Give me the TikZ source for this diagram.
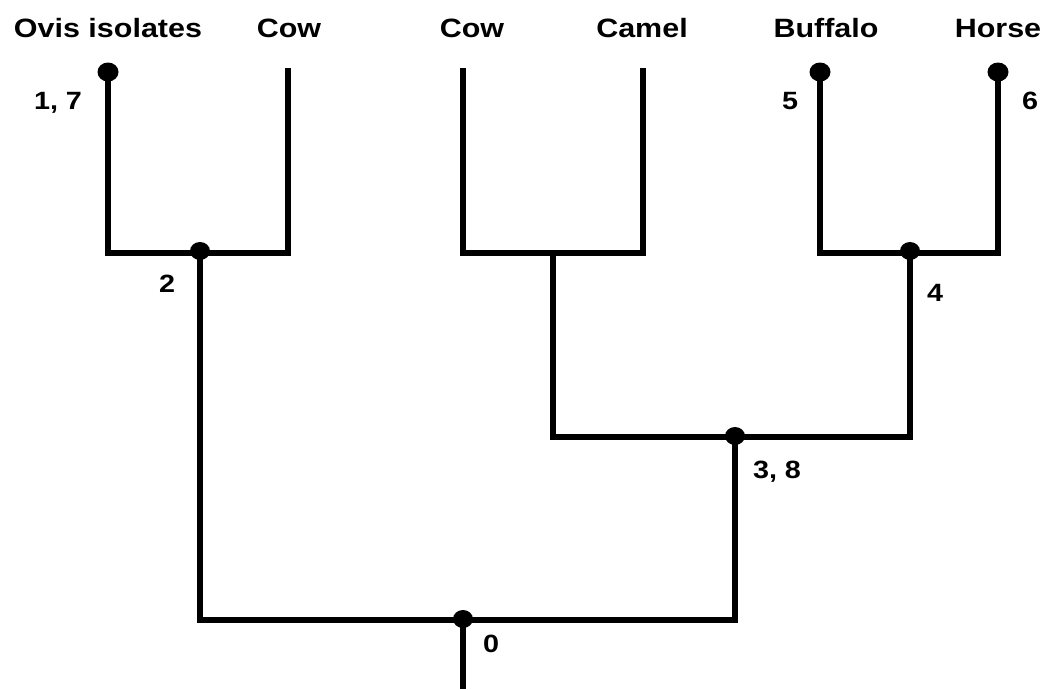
\documentclass[tikz,border=0pt]{standalone}
\usepackage{fontspec}
\usetikzlibrary{shapes.geometric}
\setmainfont{Liberation Sans}[FakeStretch=1.15]
\begin{document}
\begin{tikzpicture}[x=1pt,y=-1pt,
  branch/.style={line width=5.4pt,line join=miter},
  tip/.style={ellipse,fill=black,inner sep=0pt,minimum width=21pt,minimum height=19pt},
  knot/.style={ellipse,fill=black,inner sep=0pt,minimum width=20pt,minimum height=18pt},
  taxon/.style={font=\fontsize{26.5}{28}\selectfont\bfseries,inner sep=0pt,anchor=base},
  tag/.style={font=\fontsize{25}{26}\selectfont\bfseries,inner sep=0pt,anchor=base}]
\useasboundingbox (0,0) rectangle (1046,689);

% leaf tips
\coordinate (ovis) at (108,72);
\coordinate (cowA) at (288,68);
\coordinate (cowB) at (463,68);
\coordinate (camel) at (643,68);
\coordinate (buffalo) at (820,72);
\coordinate (horse) at (998,72);

% internal junctions
\coordinate (j2) at (200,253);
\coordinate (jcc) at (553,253);
\coordinate (j4) at (910,253);
\coordinate (j38) at (735,437);
\coordinate (j0) at (463,620);
\coordinate (root) at (463,689);

% branches
\draw[branch] (ovis) |- (j2) -| (cowA);
\draw[branch] (cowB) |- (jcc) -| (camel);
\draw[branch] (buffalo) |- (j4) -| (horse);
\draw[branch] (jcc) |- (j38) -| (j4);
\draw[branch] (j2) |- (j0) -| (j38);
\draw[branch] (j0) -- (root);

% dots
\node[tip] (dovis) at (ovis) {};
\node[tip] (dbuffalo) at (buffalo) {};
\node[tip] (dhorse) at (horse) {};
\node[knot] (d2) at ([yshift=2pt]j2) {};
\node[knot] (d4) at ([yshift=2pt]j4) {};
\node[knot] (d38) at ([yshift=1pt]j38) {};
\node[knot] (d0) at ([yshift=1pt]j0) {};

% taxon names
\node[taxon] (tovis) at (108,37) {Ovis isolates};
\node[taxon] (tcowA) at (289,37) {Cow};
\node[taxon] (tcowB) at (472,37) {Cow};
\node[taxon] (tcamel) at (642,37) {Camel};
\node[taxon] (tbuffalo) at (826,37) {Buffalo};
\node[taxon] (thorse) at (998,37) {Horse};

% numbers
\node[tag] (n17) at (58,109) {1, 7};
\node[tag] (n2) at (167,292) {2};
\node[tag] (n38) at (777,478) {3, 8};
\node[tag] (n4) at (935,301) {4};
\node[tag] (n5) at (790,109) {5};
\node[tag] (n6) at (1030,109) {6};
\node[tag] (n0) at (491,652) {0};
\end{tikzpicture}
\end{document}
